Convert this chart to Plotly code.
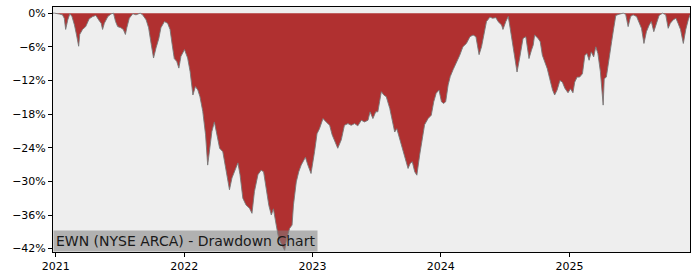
import plotly.graph_objects as go

dates = [
    "2020-12-24", "2020-12-28", "2021-01-11", "2021-01-20", "2021-01-25", "2021-01-29", "2021-02-04",
    "2021-02-10", "2021-02-16", "2021-02-23", "2021-03-01", "2021-03-07", "2021-03-10", "2021-03-18",
    "2021-03-27", "2021-04-06", "2021-04-16", "2021-04-25", "2021-05-03", "2021-05-10", "2021-05-14",
    "2021-05-19", "2021-05-29", "2021-06-07", "2021-06-14", "2021-06-20", "2021-06-26", "2021-07-05",
    "2021-07-12", "2021-07-18", "2021-07-22", "2021-07-29", "2021-08-08", "2021-08-17", "2021-08-29",
    "2021-09-05", "2021-09-15", "2021-09-22", "2021-09-29", "2021-10-06", "2021-10-13", "2021-10-21",
    "2021-10-27", "2021-11-06", "2021-11-15", "2021-11-22", "2021-11-28", "2021-12-04", "2021-12-11",
    "2021-12-17", "2021-12-23",
    "2022-01-02", "2022-01-11", "2022-01-18", "2022-01-26", "2022-02-02", "2022-02-09", "2022-02-15",
    "2022-02-23", "2022-03-03", "2022-03-09", "2022-03-16", "2022-03-21", "2022-03-28", "2022-04-02",
    "2022-04-12", "2022-04-21", "2022-04-30", "2022-05-10", "2022-05-17", "2022-05-24", "2022-06-03",
    "2022-06-09", "2022-06-17", "2022-06-26", "2022-07-06", "2022-07-13", "2022-07-20", "2022-07-30",
    "2022-08-08", "2022-08-15", "2022-08-22", "2022-08-30", "2022-09-06", "2022-09-12", "2022-09-20",
    "2022-09-27", "2022-10-04", "2022-10-14", "2022-10-20", "2022-10-28", "2022-11-04", "2022-11-08",
    "2022-11-16", "2022-11-23", "2022-11-30", "2022-12-07", "2022-12-12", "2022-12-19", "2022-12-28",
    "2023-01-07", "2023-01-14", "2023-01-21", "2023-01-31", "2023-02-09", "2023-02-19", "2023-02-26",
    "2023-03-05", "2023-03-14", "2023-03-24", "2023-04-02", "2023-04-12", "2023-04-21", "2023-05-01",
    "2023-05-10", "2023-05-20", "2023-05-29", "2023-06-08", "2023-06-14", "2023-06-20", "2023-06-22",
    "2023-06-30", "2023-07-06", "2023-07-11", "2023-07-16", "2023-07-23", "2023-07-30", "2023-08-09",
    "2023-08-16", "2023-08-23", "2023-08-29", "2023-09-06", "2023-09-13", "2023-09-20", "2023-09-30",
    "2023-10-06", "2023-10-12", "2023-10-19", "2023-10-25", "2023-11-02", "2023-11-09", "2023-11-16",
    "2023-11-26", "2023-12-05", "2023-12-12", "2023-12-19", "2023-12-27",
    "2024-01-03", "2024-01-09", "2024-01-15", "2024-01-22", "2024-01-28", "2024-02-05", "2024-02-14",
    "2024-02-24", "2024-03-04", "2024-03-14", "2024-03-24", "2024-04-02", "2024-04-10", "2024-04-19",
    "2024-04-26", "2024-05-03", "2024-05-10", "2024-05-20", "2024-05-27", "2024-06-06", "2024-06-12",
    "2024-06-22", "2024-06-26", "2024-07-04", "2024-07-11", "2024-07-15", "2024-07-23", "2024-07-30",
    "2024-08-05", "2024-08-13", "2024-08-22", "2024-08-30", "2024-09-03", "2024-09-08", "2024-09-15",
    "2024-09-20", "2024-09-24", "2024-10-04", "2024-10-10", "2024-10-16", "2024-10-23", "2024-10-30",
    "2024-11-06", "2024-11-14", "2024-11-20", "2024-11-27", "2024-12-05", "2024-12-12", "2024-12-19",
    "2024-12-28",
    "2025-01-04", "2025-01-11", "2025-01-16", "2025-01-23", "2025-01-30", "2025-02-07", "2025-02-14",
    "2025-02-20", "2025-02-26", "2025-03-04", "2025-03-11", "2025-03-17", "2025-03-23", "2025-03-30",
    "2025-04-07", "2025-04-10", "2025-04-16", "2025-04-24", "2025-05-01", "2025-05-07", "2025-05-13",
    "2025-05-22", "2025-06-03", "2025-06-10", "2025-06-17", "2025-06-24", "2025-07-01", "2025-07-11",
    "2025-07-18", "2025-07-25", "2025-08-01", "2025-08-08", "2025-08-16", "2025-08-22", "2025-08-29",
    "2025-09-06", "2025-09-13", "2025-09-23", "2025-10-02", "2025-10-09", "2025-10-15", "2025-10-23",
    "2025-10-31", "2025-11-06", "2025-11-13", "2025-11-21", "2025-11-28", "2025-12-05", "2025-12-10",
]

drawdown_pct = [
    0.0, 0.0, -0.15, -0.3, -0.9, -2.9, -1.2,
    -0.1, -0.6, -2.1, -3.9, -5.9, -3.8, -2.9,
    -2.4, -1.0, -0.6, -0.4, -1.2, -1.8, -2.9,
    -1.8, -0.6, -0.15, 0.0, -1.5, -2.4, -2.6,
    -2.9, -3.8, -2.6, -0.9, -0.1, -0.3, 0.0,
    -0.3, -1.2, -2.6, -5.4, -8.0, -6.2, -4.5,
    -2.6, -1.5, -1.8, -2.9, -5.6, -8.1, -8.6,
    -9.8, -7.7,
    -6.5, -8.0, -10.4, -14.6, -13.1, -13.7, -14.9,
    -17.5, -21.7, -27.1, -23.5, -21.1, -19.4, -21.1,
    -24.1, -24.7, -27.7, -31.5, -29.4, -28.2, -26.7,
    -28.8, -33.0, -34.2, -34.8, -35.7, -31.8, -28.8,
    -28.0, -28.3, -31.3, -34.3, -36.0, -34.9, -37.8,
    -40.2, -41.1, -42.3, -40.2, -38.4, -37.8, -34.2,
    -30.1, -28.3, -27.1, -26.2, -25.7, -27.1, -28.6,
    -24.7, -21.5, -20.6, -18.8, -19.4, -20.0, -21.7,
    -22.9, -24.1, -22.6, -20.0, -19.7, -20.0, -19.7,
    -20.1, -19.1, -19.4, -19.1, -17.6, -18.5, -18.8,
    -17.6, -17.6, -15.8, -14.0, -14.6, -14.9, -17.0,
    -19.1, -21.2, -20.6, -22.4, -23.9, -25.4, -27.7,
    -26.8, -26.5, -28.3, -28.9, -25.3, -22.9, -19.9,
    -18.8, -18.2, -15.8, -14.3, -13.7,
    -15.8, -16.1, -15.8, -12.8, -11.3, -10.1, -9.0,
    -7.5, -6.0, -5.4, -4.2, -3.9, -4.2, -7.4,
    -6.0, -3.6, -1.5, -0.7, -0.9, -0.8, -1.5,
    -2.1, -2.9, -1.5, -0.6, -2.1, -5.1, -7.5,
    -10.5, -7.8, -4.5, -4.2, -5.7, -8.1, -6.6,
    -5.7, -3.9, -4.5, -5.1, -7.5, -8.7, -9.9,
    -11.7, -13.7, -14.6, -13.7, -12.0, -12.3, -13.4,
    -14.2,
    -13.5, -14.2, -12.3, -11.4, -11.4, -10.8, -7.5,
    -7.2, -8.4, -6.9, -7.8, -6.0, -7.2, -10.4,
    -16.4, -11.7, -11.4, -7.5, -5.1, -2.7, -0.4,
    -0.2, 0.0, -0.2, -2.4, -0.6, -0.3, -0.6,
    -1.5, -2.7, -5.4, -3.3, -2.1, -1.5, -3.3,
    -1.8, -0.4, 0.0, -0.3, -2.7, -1.8, -1.2,
    -0.9, -1.8, -2.9, -5.4, -2.9, -1.2, -0.3,
]

y_tick_values = [0, -6, -12, -18, -24, -30, -36, -42]
y_tick_labels = ["0%", "\u22126%", "\u221212%", "\u221218%", "\u221224%", "\u221230%", "\u221236%", "\u221242%"]
x_tick_values = ["2021-01-01", "2022-01-01", "2023-01-01", "2024-01-01", "2025-01-01"]
x_tick_labels = ["2021", "2022", "2023", "2024", "2025"]
title_text = "EWN (NYSE ARCA) - Drawdown Chart"

fig = go.Figure()
fig.add_trace(go.Scatter(
    x=dates, y=drawdown_pct, mode="lines", fill="tozeroy",
    fillcolor="rgb(176,48,48)",
    line=dict(color="rgba(120,120,120,0.9)", width=1),
    hoverinfo="skip", showlegend=False,
))

fig.update_layout(
    width=700, height=280,
    margin=dict(l=53, r=10, t=7, b=28),
    paper_bgcolor="white",
    plot_bgcolor="#EEEEEE",
    font=dict(family="DejaVu Sans", size=11, color="black"),
    xaxis=dict(
        range=["2020-12-24", "2025-12-10"],
        tickvals=x_tick_values, ticktext=x_tick_labels,
        ticks="outside", ticklen=4, tickcolor="black",
        showgrid=False, zeroline=False,
        showline=True, linecolor="black", linewidth=1, mirror=True,
    ),
    yaxis=dict(
        range=[-42.6, 1.1],
        tickvals=y_tick_values, ticktext=y_tick_labels,
        ticks="outside", ticklen=4, tickcolor="black",
        showgrid=False, zeroline=False,
        showline=True, linecolor="black", linewidth=1, mirror=True,
    ),
    annotations=[dict(
        text=title_text, xref="paper", yref="paper", x=0, y=0,
        xanchor="left", yanchor="bottom", showarrow=False,
        font=dict(family="DejaVu Sans", size=14, color="#1a1a1a"),
        bgcolor="rgba(128,128,128,0.55)", borderpad=2,
    )],
)

fig.write_html("out.html")
